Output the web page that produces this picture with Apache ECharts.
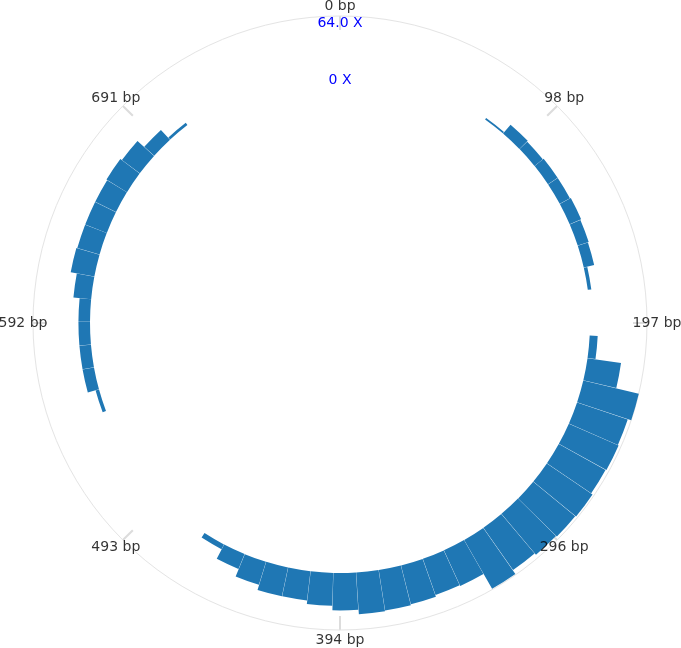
<!DOCTYPE html>
<html><head><meta charset="utf-8">
<script src="https://cdn.jsdelivr.net/npm/echarts@6/dist/echarts.min.js"></script>
<style>html,body{margin:0;padding:0;background:#fff}#c{width:681px;height:648px}</style>
</head><body><div id="c"></div>
<script>
// Coverage per bin (69 bins around the circle), in X
const coverage = [
  0, 0, 0, 0, 0, 0, 0,
  2, 13, 12, 13, 13, 14, 13, 12, 4,
  0, 0,
  9, 38, 64, 60, 61, 60, 62, 61, 60, 58, 63, 44, 43, 45, 46, 47, 42, 37, 33, 33, 27, 18, 6,
  0, 0, 0, 0, 0, 0, 0,
  4, 13, 13, 13, 13, 20, 27, 26, 26, 26, 27, 25, 15, 3,
  0, 0, 0, 0, 0, 0, 0
];
const bins = coverage.map((_, i) => 'bin ' + i);
const tickLabels = ['0 bp', '98 bp', '197 bp', '296 bp', '394 bp', '493 bp', '592 bp', '691 bp'];
const radialMax = 64;
const radialLabels = { 0: '0 X', 64: '64.0 X' };

const CENTER = [340, 323];
const R_IN = 250, R_OUT = 307, R_LABEL = 317;
const BIN_OFFSET_DEG = 1.07;
const FONT = 'DejaVu Sans';

const chart = echarts.init(document.getElementById('c'), null, { renderer: 'canvas' });
const option = {
  animation: false,
  backgroundColor: '#ffffff',
  polar: [
    { center: CENTER, radius: [R_IN, R_OUT] },
    { center: CENTER, radius: [0, R_OUT] },
    { center: CENTER, radius: [R_IN, R_OUT] }
  ],
  angleAxis: [
    { polarIndex: 0, type: 'category', data: bins, startAngle: 90 + BIN_OFFSET_DEG, clockwise: true,
      axisLine: { show: false }, axisTick: { show: false }, axisLabel: { show: false }, splitLine: { show: false } },
    { polarIndex: 1, type: 'value', min: 0, max: tickLabels.length, interval: 1, startAngle: 90, clockwise: true,
      axisLine: { show: true, lineStyle: { color: '#e4e4e4', width: 1 } },
      axisTick: { show: true, inside: true, length: 14, lineStyle: { color: '#dcdcdc', width: 2 } },
      axisLabel: { show: false }, splitLine: { show: false } },
    { polarIndex: 2, type: 'value', min: 0, max: 1, startAngle: 90, clockwise: true,
      axisLine: { show: false }, axisTick: { show: false }, axisLabel: { show: false }, splitLine: { show: false } }
  ],
  radiusAxis: [
    { polarIndex: 0, type: 'value', min: 0, max: radialMax,
      axisLine: { show: false }, axisTick: { show: false }, axisLabel: { show: false }, splitLine: { show: false } },
    { polarIndex: 1, type: 'value', min: 0, max: 1,
      axisLine: { show: false }, axisTick: { show: false }, axisLabel: { show: false }, splitLine: { show: false } },
    { polarIndex: 2, type: 'value', min: 0, max: radialMax, interval: radialMax,
      axisLine: { show: false }, axisTick: { show: false }, splitLine: { show: false },
      axisLabel: { show: true, showMinLabel: true, showMaxLabel: true, margin: 0, align: 'center', verticalAlign: 'top',
        color: '#0000ff', fontSize: 14, fontFamily: FONT,
        formatter: v => radialLabels[v] || '' } }
  ],
  series: [
    { type: 'bar', coordinateSystem: 'polar', polarIndex: 0, data: coverage,
      barCategoryGap: '1%', itemStyle: { color: '#1f77b4' } },
    { type: 'scatter', coordinateSystem: 'polar', polarIndex: 1, clip: false, symbolSize: 0,
      data: tickLabels.map((t, i) => [R_LABEL / R_OUT, i]),
      label: { show: true, position: 'inside', color: '#000000', textBorderWidth: 0, fontSize: 14, fontFamily: FONT,
        formatter: p => tickLabels[p.dataIndex] } }
  ]
};
chart.setOption(option);
</script>
</body></html>
